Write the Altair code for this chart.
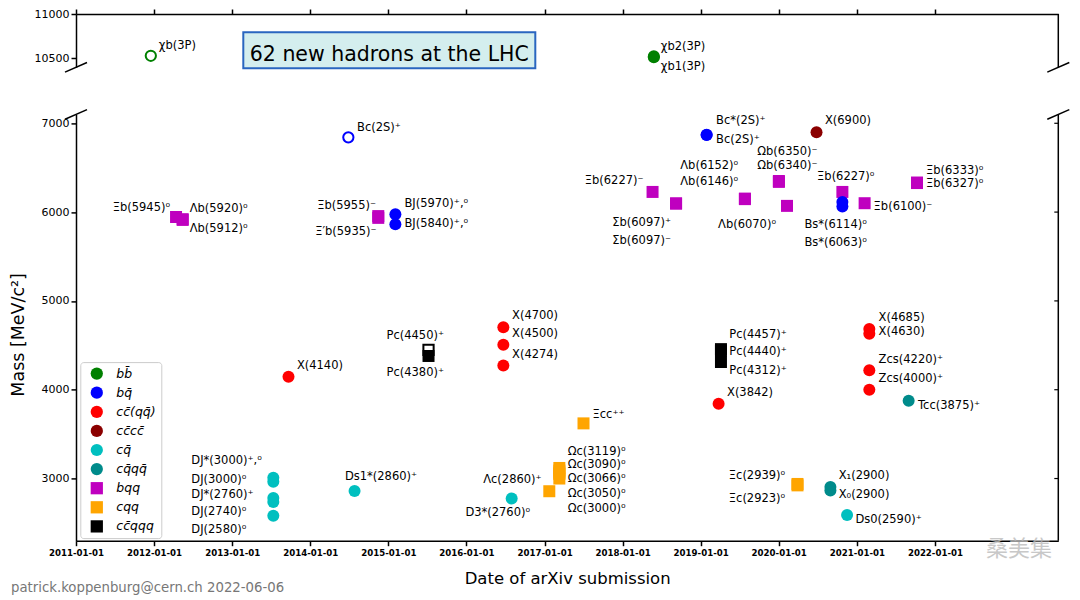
import altair as alt
import pandas as pd

# ---------------- categories ----------------
BB = "bb\u0304"
BQ = "bq\u0304"
CCQQ = "cc\u0304(qq\u0304)"
CCCC = "cc\u0304cc\u0304"
CQ = "cq\u0304"
CQQQ = "cq\u0304qq\u0304"
BQQ = "bqq"
CQQ = "cqq"
CCQQQ = "cc\u0304qqq"
kind_order = [BB, BQ, CCQQ, CCCC, CQ, CQQQ, BQQ, CQQ, CCQQQ]
kind_colors = ["#008000", "#0000ff", "#ff0000", "#8b0000", "#00bfbf",
               "#008b8b", "#bf00bf", "#ffa500", "#000000"]
kind_shapes = ["circle"] * 6 + ["square"] * 3

# ---------------- data ----------------
labels = [
    "χb(3P)", "Ξb(5945)⁰", "Λb(5920)⁰", "Λb(5912)⁰",
    "DJ*(3000)⁺,⁰", "DJ(3000)⁰", "DJ*(2760)⁺", "DJ(2740)⁰", "DJ(2580)⁰",
    "X(4140)", "Bc(2S)⁺", "Ds1*(2860)⁺", "Ξb(5955)⁻", "Ξ′b(5935)⁻",
    "BJ(5970)⁺,⁰", "BJ(5840)⁺,⁰", "Pc(4450)⁺", "Pc(4380)⁺",
    "X(4700)", "X(4500)", "X(4274)", "D3*(2760)⁰", "Λc(2860)⁺",
    "Ωc(3119)⁰", "Ωc(3090)⁰", "Ωc(3066)⁰", "Ωc(3050)⁰", "Ωc(3000)⁰",
    "Ξcc⁺⁺", "Ξb(6227)⁻", "χb2(3P)", "χb1(3P)", "Σb(6097)⁺", "Σb(6097)⁻",
    "Bc*(2S)⁺", "Bc(2S)⁺", "X(3842)", "Pc(4457)⁺", "Pc(4440)⁺", "Pc(4312)⁺",
    "Λb(6152)⁰", "Λb(6146)⁰", "Ωb(6350)⁻", "Ωb(6340)⁻", "Λb(6070)⁰",
    "Ξc(2939)⁰", "Ξc(2923)⁰", "X(6900)", "X₁(2900)", "X₀(2900)",
    "Ξb(6227)⁰", "Bs*(6114)⁰", "Bs*(6063)⁰", "Ds0(2590)⁺", "Ξb(6100)⁻",
    "X(4685)", "X(4630)", "Zcs(4220)⁺", "Zcs(4000)⁺", "Tcc(3875)⁺",
    "Ξb(6333)⁰", "Ξb(6327)⁰",
]
dates = [
    "2011-12-17", "2012-04-13", "2012-05-14", "2012-05-14",
    "2013-07-12", "2013-07-12", "2013-07-12", "2013-07-12", "2013-07-12",
    "2013-09-21", "2014-06-28", "2014-07-27", "2014-11-15", "2014-11-15",
    "2015-02-03", "2015-02-03", "2015-07-08", "2015-07-08",
    "2016-06-22", "2016-06-22", "2016-06-22", "2016-07-31", "2017-01-23",
    "2017-03-11", "2017-03-11", "2017-03-11", "2017-03-11", "2017-03-11",
    "2017-07-02", "2018-05-21", "2018-05-27", "2018-05-27", "2018-09-08", "2018-09-08",
    "2019-01-29", "2019-01-29", "2019-03-26", "2019-04-06", "2019-04-06", "2019-04-06",
    "2019-07-27", "2019-07-27", "2020-01-02", "2020-01-02", "2020-02-09",
    "2020-03-29", "2020-03-29", "2020-06-26", "2020-08-30", "2020-08-30",
    "2020-10-25", "2020-10-25", "2020-10-25", "2020-11-16", "2021-02-06",
    "2021-02-28", "2021-02-28", "2021-02-28", "2021-02-28", "2021-08-31",
    "2021-10-09", "2021-10-09",
]
masses = [
    10530, 5945, 5920, 5912,
    3008, 2965, 2781, 2737, 2580,
    4145, 6842, 2860, 5955, 5935,
    5975, 5862, 4450, 4380,
    4704, 4506, 4273, 2775, 2857,
    3119, 3090, 3066, 3050, 3000,
    3621, 6227, 10524, 10513, 6097, 6097,
    6867, 6871, 3842, 4457, 4440, 4312,
    6152, 6146, 6350, 6340, 6070,
    2939, 2923, 6900, 2904, 2866,
    6227, 6114, 6063, 2590, 6100,
    4685, 4630, 4220, 4000, 3875,
    6333, 6327,
]
kinds = [
    BB, BQQ, BQQ, BQQ,
    CQ, CQ, CQ, CQ, CQ,
    CCQQ, BQ, CQ, BQQ, BQQ,
    BQ, BQ, CCQQQ, CCQQQ,
    CCQQ, CCQQ, CCQQ, CQ, CQQ,
    CQQ, CQQ, CQQ, CQQ, CQQ,
    CQQ, BQQ, BB, BB, BQQ, BQQ,
    BQ, BQ, CCQQ, CCQQQ, CCQQQ, CCQQQ,
    BQQ, BQQ, BQQ, BQQ, BQQ,
    CQQ, CQQ, CCCC, CQQQ, CQQQ,
    BQQ, BQ, BQ, CQ, BQQ,
    CCQQ, CCQQ, CCQQ, CCQQ, CQQQ,
    BQQ, BQQ,
]
hollow = [False] * len(labels)
hollow[0] = True    # chi_b(3P), 2011
hollow[10] = True   # Bc(2S)+, 2014
hollow[16] = True   # Pc(4450)+

# ---------------- label layout (pixel offsets from the marker) ----------------
lab_dx = [
    8, -6, 7, 7,
    -82, -82, -82, -82, -82,
    8.4, 8.7, -9.6, -2.3, -1.7,
    9, 9, -42, -42,
    8.7, 8.7, 8.7, 18.4, -7.7,
    8.3, 8.3, 8.3, 8.3, 8.3,
    9, -9, 7, 7, -5, -5,
    9.4, 9.4, 8.4, 8.3, 8.3, 8.3,
    -6.7, -6.7, -21.6, -21.6, -11,
    -12.3, -12.3, 8.4, 8.3, 8.3,
    -25.3, -38, -38, 8.3, 9,
    9.3, 9.3, 9.3, 9.3, 9.4,
    9, 9,
]
lab_dy = [
    -10, -9, -10.5, 9,
    -16.5, -2, -2.6, 10.2, 14.6,
    -10.4, -9.2, -13.6, -10.4, 14.2,
    -10.6, 0, -14, 17,
    -10.8, -10.7, -10.8, 14.6, -10.8,
    -15.5, -5.1, 6.0, 19.6, 30.2,
    -8.7, -10.5, -9.5, 10.2, 19.6, 37.9,
    -14.4, 5.7, -10.6, -14.4, 1.8, 9.4,
    -32.2, -16.7, -28.9, -16.2, 19.5,
    -8.2, 13.4, -10.8, -10.6, 5.0,
    -14.5, 22.7, 36.6, 4.8, 4.2,
    -10.8, -1.4, -10.5, -10.6, 5.6,
    -11.1, 1.1,
]
R = "right"
L = "left"
lab_align = [
    L, R, L, L,
    L, L, L, L, L,
    L, L, L, R, R,
    L, L, L, L,
    L, L, L, R, R,
    L, L, L, L, L,
    L, R, L, L, R, R,
    L, L, L, L, L, L,
    R, R, L, L, R,
    R, R, L, L, L,
    L, L, L, L, L,
    L, L, L, L, L,
    L, L,
]

year_ticks = list(range(2011, 2023))
mass_ticks_bottom = [3000, 4000, 5000, 6000, 7000]
mass_ticks_top = [10500, 11000]

# ---------------- layout ----------------
W = 982.3
H_TOP = 53.3
H_BOT = 426.3
X_START = pd.Timestamp("2011-01-01")
X_END = pd.Timestamp("2023-08-01")
TOP_DOM = [10400, 11000]
BOT_DOM = [2300, 7100]
FONT = "DejaVu Sans"

df = pd.DataFrame({
    "label": labels, "date": pd.to_datetime(dates), "mass": masses, "kind": kinds,
    "hollow": hollow, "dx": lab_dx, "dy": lab_dy, "align": lab_align,
})
color_of = dict(zip(kind_order, kind_colors))
shape_of = dict(zip(kind_order, kind_shapes))
df["col"] = df["kind"].map(color_of)
df["shp"] = df["kind"].map(shape_of)

# label anchors: marker position shifted by the pixel offsets, expressed in data units
px_per_day = W / (X_END - X_START).days
mev_per_px = (BOT_DOM[1] - BOT_DOM[0]) / H_BOT
df["ldate"] = df["date"] + pd.to_timedelta(df["dx"] / px_per_day, unit="D")
df["lmass"] = df["mass"] - df["dy"] * mev_per_px
df["date"] = df["date"].dt.strftime("%Y-%m-%dT%H:%M:%S") + "Z"
df["ldate"] = df["ldate"].dt.strftime("%Y-%m-%dT%H:%M:%S") + "Z"

top_df = df[df["mass"] > 10000]
bot_df = df[df["mass"] < 10000]

xscale = alt.Scale(type="utc", domain=[
    alt.DateTime(year=2011, month=1, date=1, utc=True),
    alt.DateTime(year=2023, month=8, date=1, utc=True)])
tick_dates = [alt.DateTime(year=y, month=1, date=1, utc=True) for y in year_ticks]
cscale = alt.Scale(domain=kind_order, range=kind_colors)
sscale = alt.Scale(domain=kind_order, range=kind_shapes)

axis_common = dict(grid=False, domainColor="black", domainWidth=1.5,
                   tickColor="black", tickWidth=1.5, tickSize=5,
                   labelColor="black")


def panel(data, yscale, xaxis, yaxis, xtitle, ytitle, legend):
    hol = data[data["hollow"]]
    fil = data[~data["hollow"]]
    layers = []
    if len(hol):
        layers.append(alt.Chart(hol).mark_point(filled=False, strokeWidth=2, size=105, opacity=1).encode(
            x=alt.X("date:T", scale=xscale),
            y=alt.Y("mass:Q", scale=yscale),
            stroke=alt.Stroke("col:N", scale=None),
            shape=alt.Shape("shp:N", scale=None)))
    layers.append(alt.Chart(fil).mark_point(filled=True, size=144, opacity=1, strokeWidth=0).encode(
        x=alt.X("date:T", scale=xscale, axis=xaxis, title=xtitle),
        y=alt.Y("mass:Q", scale=yscale, axis=yaxis, title=ytitle),
        color=alt.Color("kind:N", scale=cscale, legend=legend),
        shape=alt.Shape("kind:N", scale=sscale, legend=legend)))
    for al in ["left", "right"]:
        sub = data[data["align"] == al]
        if len(sub) == 0:
            continue
        layers.append(alt.Chart(sub).mark_text(align=al, baseline="middle", font=FONT,
                                               fontSize=11.5, color="black").encode(
            x=alt.X("ldate:T", scale=xscale),
            y=alt.Y("lmass:Q", scale=yscale),
            text="label:N"))
    return layers


base = alt.Chart(pd.DataFrame({"k": [0]}))

# ---------- top panel ----------
top_y = alt.Scale(domain=TOP_DOM, nice=False, zero=False)
top_layers = panel(
    top_df, top_y,
    alt.Axis(orient="top", values=tick_dates, labels=False, **axis_common),
    alt.Axis(values=mass_ticks_top, format="d", labelFontSize=11, labelPadding=2,
             labelFont=FONT, **axis_common),
    None, None, None)
top_layers += [
    base.mark_rect(fill="#d4eeee", stroke="#2a66c0", strokeWidth=2).encode(
        x=alt.value(167.3), x2=alt.value(459.3), y=alt.value(18.2), y2=alt.value(54.2)),
    base.mark_text(align="center", baseline="alphabetic", font=FONT, fontSize=20.5, color="black").encode(
        x=alt.value(313.3), y=alt.value(46.6), text=alt.value("62 new hadrons at the LHC")),
    base.mark_rule(color="black", strokeWidth=1.5).encode(
        x=alt.value(W), y=alt.value(0), y2=alt.value(H_TOP)),
    base.mark_rule(color="black", strokeWidth=1.5).encode(
        x=alt.value(-11), y=alt.value(H_TOP + 4.8), x2=alt.value(11), y2=alt.value(H_TOP - 4.8)),
    base.mark_rule(color="black", strokeWidth=1.5).encode(
        x=alt.value(W - 11), y=alt.value(H_TOP + 4.8), x2=alt.value(W + 11), y2=alt.value(H_TOP - 4.8)),
]
top = alt.layer(*top_layers).properties(width=W, height=H_TOP)

# ---------- bottom panel ----------
bot_y = alt.Scale(domain=BOT_DOM, nice=False, zero=False)
legend = alt.Legend(orient="none", legendX=4.3, legendY=247.7, title=None,
                    fillColor="white", strokeColor="#cccccc", cornerRadius=3,
                    padding=5, symbolOffset=5, labelOffset=13, rowPadding=6.1,
                    symbolSize=150, symbolStrokeWidth=0, labelFont=FONT,
                    labelFontSize=12.5, labelFontStyle="italic", labelColor="black")
bot_layers = panel(
    bot_df, bot_y,
    alt.Axis(values=tick_dates, labelExpr="utcFormat(datum.value, '%Y-%m-%d')",
             labelFont="DejaVu Sans Condensed, DejaVu Sans", labelFontSize=9.6,
             labelFontWeight="bold",
             labelPadding=2, labelOverlap=False, labelFlush=False,
             titleFont=FONT, titleFontSize=16.5,
             titleFontWeight="normal", titleColor="black", titleBaseline="middle",
             titleY=37.5, **axis_common),
    alt.Axis(values=mass_ticks_bottom, format="d", labelFontSize=11, labelPadding=2, labelFont=FONT,
             titleFont=FONT, titleFontSize=17.5, titleFontWeight="normal", titleColor="black",
             titleAngle=270, titleBaseline="middle", titleAlign="center",
             titleX=-57, titleY=220, **axis_common),
    "Date of arXiv submission", "Mass [MeV/c²]",
    legend)
rt = pd.DataFrame({"m": mass_ticks_bottom})
bot_layers += [
    base.mark_rule(color="black", strokeWidth=1.5).encode(
        x=alt.value(W), y=alt.value(0), y2=alt.value(H_BOT)),
    alt.Chart(rt).mark_rule(color="black", strokeWidth=1.2).encode(
        y=alt.Y("m:Q", scale=bot_y), x=alt.value(W - 4), x2=alt.value(W)),
    base.mark_rule(color="black", strokeWidth=1.5).encode(
        x=alt.value(-11), y=alt.value(4.8), x2=alt.value(11), y2=alt.value(-4.8)),
    base.mark_rule(color="black", strokeWidth=1.5).encode(
        x=alt.value(W - 11), y=alt.value(4.8), x2=alt.value(W + 11), y2=alt.value(-4.8)),
    base.mark_text(align="left", baseline="middle", font=FONT, fontSize=13.3, color="#777777").encode(
        x=alt.value(-65), y=alt.value(473.7), text=alt.value("patrick.koppenburg@cern.ch 2022-06-06")),
    base.mark_text(align="center", baseline="middle", font="Noto Sans CJK SC", fontSize=22,
                   color="#bbbbbb", opacity=0.8).encode(
        x=alt.value(943), y=alt.value(435), text=alt.value("桑美集")),
]
bottom = alt.layer(*bot_layers).properties(width=W, height=H_BOT)

chart = alt.vconcat(top, bottom, spacing=46.4, bounds="flush").resolve_scale(
    color="independent", shape="independent").resolve_legend(
    color="independent", shape="independent").configure_view(stroke=None).properties(
    padding={"left": 2, "top": 0, "right": 0, "bottom": 0})

chart.save("out.html", embed_options={"renderer": "svg", "actions": False})
